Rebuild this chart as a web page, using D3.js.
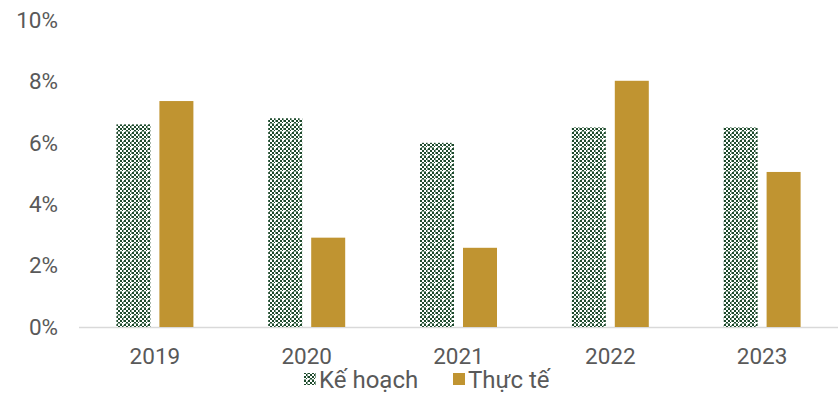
<!DOCTYPE html>
<html><head><meta charset="utf-8">
<script src="https://cdn.jsdelivr.net/npm/d3@7"></script>
<style>body{margin:0;background:#fff}svg{display:block}text{font-family:Roboto,"Noto Sans",sans-serif}</style>
</head><body><svg id="c" width="840" height="394"></svg>
<script>
const categories = ["2019","2020","2021","2022","2023"];
const seriesNames = ["Kế hoạch","Thực tế"];
const keHoach = [6.6, 6.8, 6.0, 6.5, 6.5];
const thucTe = [7.36, 2.91, 2.58, 8.02, 5.05];
const yTicks = [0,2,4,6,8,10];

const svg = d3.select("#c");
const m = {l:79, r:838, t:20, b:327};
const defs = svg.append("defs");
const pat = defs.append("pattern").attr("id","chk").attr("patternUnits","userSpaceOnUse")
  .attr("width",8).attr("height",8);
pat.append("rect").attr("width",8).attr("height",8).attr("fill","#ffffff");
for (let i=0;i<4;i++) for (let j=0;j<4;j++) if ((i+j)%2===0)
  pat.append("rect").attr("x",i*2).attr("y",j*2).attr("width",2).attr("height",2).attr("fill","#1d4a2c");
pat.append("rect").attr("x",0).attr("y",3).attr("width",8).attr("height",1).attr("fill","#7f9c88");
pat.append("rect").attr("x",3).attr("y",0).attr("width",1).attr("height",8).attr("fill","#7f9c88");
pat.append("rect").attr("x",2).attr("y",3).attr("width",3).attr("height",1).attr("fill","#ffffff");
pat.append("rect").attr("x",3).attr("y",2).attr("width",1).attr("height",3).attr("fill","#ffffff");

const x = d3.scaleBand().domain(categories).range([m.l, m.r]);
const y = d3.scaleLinear().domain([0,10]).range([m.b, m.t]);
const barW = 34, gap = 9;

// y labels
svg.append("g").selectAll("text").data(yTicks).join("text")
  .attr("x", 58).attr("y", d=>y(d)).attr("dy","0.35em").attr("text-anchor","end")
  .attr("fill","#595959").attr("font-size",22.5).text(d=>d+"%");

// baseline
svg.append("line").attr("x1",m.l).attr("x2",m.r).attr("y1",m.b+0.5).attr("y2",m.b+0.5)
  .attr("stroke","#d9d9d9").attr("stroke-width",1.5);

const g = svg.append("g");
g.selectAll("rect.kh").data(categories).join("rect").attr("class","kh")
  .attr("x", d=>x(d)+x.bandwidth()/2 - gap/2 - barW).attr("width",barW)
  .attr("y",(d,i)=>y(keHoach[i])).attr("height",(d,i)=>y(0)-y(keHoach[i]))
  .attr("fill","url(#chk)");
g.selectAll("rect.tt").data(categories).join("rect").attr("class","tt")
  .attr("x", d=>x(d)+x.bandwidth()/2 + gap/2).attr("width",barW)
  .attr("y",(d,i)=>y(thucTe[i])).attr("height",(d,i)=>y(0)-y(thucTe[i]))
  .attr("fill","#c09431");

// x labels
svg.append("g").selectAll("text").data(categories).join("text")
  .attr("x", d=>x(d)+x.bandwidth()/2).attr("y",356.5).attr("dy","0.35em").attr("text-anchor","middle")
  .attr("fill","#595959").attr("font-size",22.5).text(d=>d);

// legend
const lg = svg.append("g");
const items = [{name:seriesNames[0], fill:"url(#chk)", x:304},{name:seriesNames[1], fill:"#c09431", x:453}];
items.forEach(it=>{
  lg.append("rect").attr("x",it.x).attr("y",373).attr("width",12).attr("height",12).attr("fill",it.fill);
  lg.append("text").attr("x",it.x+15).attr("y",380).attr("dy","0.35em").attr("fill","#595959")
    .attr("font-size",24).text(it.name);
});
</script></body></html>
